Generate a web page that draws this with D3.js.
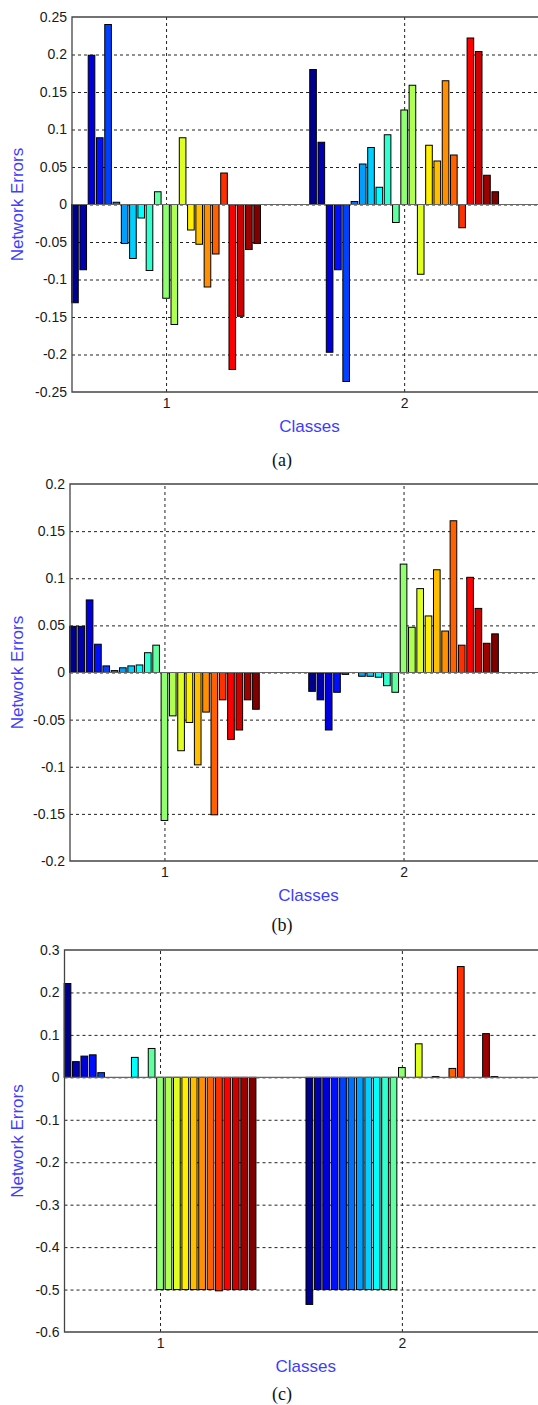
<!DOCTYPE html>
<html>
<head>
<meta charset="utf-8">
<script src="https://cdn.jsdelivr.net/npm/d3@7"></script>
<style>
  body { margin: 0; background: #fff; }
  svg { display: block; }
  .tick text { font-family: "Liberation Sans", Arial, sans-serif; font-size: 14px; fill: #1a1a1a; }
</style>
</head>
<body>
<div id="container"></div>
<script>
const w = 538;
const h = 1405;
const classes = [1, 2];

// network errors per output (23 per class)
const errorsA1 = [-0.131, -0.087, 0.199, 0.089, 0.240, 0.003, -0.052, -0.072, -0.018, -0.088, 0.017, -0.125,
  -0.160, 0.089, -0.034, -0.053, -0.110, -0.066, 0.042, -0.220, -0.149, -0.060, -0.052];
const errorsA2 = [0.180, 0.083, -0.197, -0.087, -0.236, 0.004, 0.054, 0.076, 0.023, 0.093, -0.024, 0.126,
  0.159, -0.093, 0.079, 0.058, 0.165, 0.066, -0.031, 0.222, 0.204, 0.039, 0.017];

const errorsB1 = [0.049, 0.049, 0.077, 0.030, 0.007, 0.002, 0.005, 0.007, 0.008, 0.021, 0.029, -0.157,
  -0.046, -0.083, -0.053, -0.098, -0.042, -0.151, -0.029, -0.071, -0.061, -0.029, -0.039];
const errorsB2 = [-0.020, -0.029, -0.061, -0.021, -0.002, 0, -0.004, -0.004, -0.005, -0.014, -0.021, 0.115,
  0.048, 0.089, 0.060, 0.109, 0.044, 0.161, 0.029, 0.101, 0.068, 0.031, 0.041];

const errorsC1 = [0.221, 0.037, 0.050, 0.053, 0.011, 0, 0, 0, 0.047, 0, 0.068, -0.5,
  -0.5, -0.5, -0.5, -0.5, -0.5, -0.5, -0.503, -0.5, -0.5, -0.5, -0.5];
const errorsC2 = [-0.535, -0.5, -0.5, -0.5, -0.5, -0.5, -0.5, -0.5, -0.5, -0.5, -0.5, 0.023,
  0, 0.079, 0, 0.002, 0, 0.021, 0.261, 0, 0, 0.103, 0.002];

const yTicksA = [-0.25, -0.2, -0.15, -0.1, -0.05, 0, 0.05, 0.1, 0.15, 0.2, 0.25];
const yTicksB = [-0.2, -0.15, -0.1, -0.05, 0, 0.05, 0.1, 0.15, 0.2];
const yTicksC = [-0.6, -0.5, -0.4, -0.3, -0.2, -0.1, 0, 0.1, 0.2, 0.3];

const panels = [
  { series: [errorsA1, errorsA2], ticks: yTicksA, left: 72, top: 17, bottom: 392, caption: "(a)", capY: 466 },
  { series: [errorsB1, errorsB2], ticks: yTicksB, left: 70, top: 484, bottom: 861, caption: "(b)", capY: 931 },
  { series: [errorsC1, errorsC2], ticks: yTicksC, left: 64.5, top: 950, bottom: 1332, caption: "(c)", capY: 1400 }
];
const right = 547;

// matlab jet(64)
function jet(k) {
  const u = (j) => j < 1 || j > 47 ? 0 : j <= 16 ? j / 16 : j <= 31 ? 1 : (48 - j) / 16;
  const r = k >= 25 ? u(k - 24) : 0;
  const g = (k >= 9 && k <= 55) ? u(k - 8) : 0;
  const b = k <= 39 ? u(k + 8) : 0;
  return d3.rgb(r * 255, g * 255, b * 255).formatHex();
}
const nSeries = errorsA1.length;
const colorOf = (i) => jet(Math.min(64, Math.floor(i / (nSeries - 1) * 64) + 1));

const fmt = (v) => String(+v.toFixed(2));

const svg = d3.select("#container")
  .append("svg")
  .attr("width", w)
  .attr("height", h);

panels.forEach((p) => {
  const x = d3.scaleLinear().domain([0.605, 2.6]).range([p.left, right]);
  const y = d3.scaleLinear().domain([p.ticks[0], p.ticks[p.ticks.length - 1]]).range([p.bottom, p.top]);
  const g = svg.append("g");

  // dashed grid
  const gy = g.append("g")
    .attr("transform", "translate(" + p.left + ",0)")
    .call(d3.axisLeft(y).tickValues(p.ticks.slice(1, -1)).tickSize(-(right - p.left)).tickFormat(""));
  const gx = g.append("g")
    .attr("transform", "translate(0," + p.bottom + ")")
    .call(d3.axisBottom(x).tickValues(classes).tickSize(-(p.bottom - p.top)).tickFormat(""));
  [gy, gx].forEach((a) => {
    a.select(".domain").remove();
    a.selectAll("line").attr("stroke", "#222").attr("stroke-dasharray", "3,3");
  });

  // bars
  const slot = 0.8 / nSeries;
  const bars = [];
  p.series.forEach((vals, c) => {
    vals.forEach((v, i) => bars.push({ cls: classes[c], i: i, v: v }));
  });
  g.selectAll("rect.bar")
    .data(bars)
    .enter()
    .append("rect")
    .attr("class", "bar")
    .attr("x", (d) => x(d.cls - 0.4 + (d.i + 0.1) * slot))
    .attr("width", x(0.8 * slot) - x(0))
    .attr("y", (d) => y(Math.max(0, d.v)))
    .attr("height", (d) => Math.abs(y(d.v) - y(0)))
    .attr("fill", (d) => colorOf(d.i))
    .attr("stroke", "#000")
    .attr("stroke-width", 1);

  // baseline
  g.append("line")
    .attr("x1", p.left).attr("x2", right)
    .attr("y1", y(0)).attr("y2", y(0))
    .attr("stroke", "#666").attr("stroke-width", 1.2);

  // box
  g.append("path")
    .attr("d", "M" + right + "," + p.top + "H" + p.left + "V" + p.bottom + "H" + right)
    .attr("fill", "none").attr("stroke", "#444").attr("stroke-width", 1.3);

  // tick labels
  const ay = g.append("g")
    .attr("transform", "translate(" + p.left + ",0)")
    .call(d3.axisLeft(y).tickValues(p.ticks).tickSize(0).tickPadding(5).tickFormat(fmt));
  ay.select(".domain").remove();
  const ax = g.append("g")
    .attr("transform", "translate(0," + p.bottom + ")")
    .call(d3.axisBottom(x).tickValues(classes).tickSize(0).tickPadding(6).tickFormat(d3.format("d")));
  ax.select(".domain").remove();

  g.append("text")
    .attr("transform", "translate(17," + ((p.top + p.bottom) / 2) + ") rotate(-90)")
    .attr("text-anchor", "middle")
    .attr("dominant-baseline", "central")
    .style("font-family", "Liberation Sans, Arial, sans-serif")
    .style("font-size", "17px")
    .attr("fill", "#3d3dff")
    .text("Network Errors");

  g.append("text")
    .attr("x", (p.left + right) / 2)
    .attr("y", p.bottom + 40)
    .attr("text-anchor", "middle")
    .style("font-family", "Liberation Sans, Arial, sans-serif")
    .style("font-size", "17px")
    .attr("fill", "#3d3dff")
    .text("Classes");

  g.append("text")
    .attr("x", 282)
    .attr("y", p.capY)
    .attr("text-anchor", "middle")
    .style("font-family", "Liberation Serif, Times New Roman, serif")
    .style("font-size", "18px")
    .attr("fill", "#111")
    .text(p.caption);
});
</script>
</body>
</html>
